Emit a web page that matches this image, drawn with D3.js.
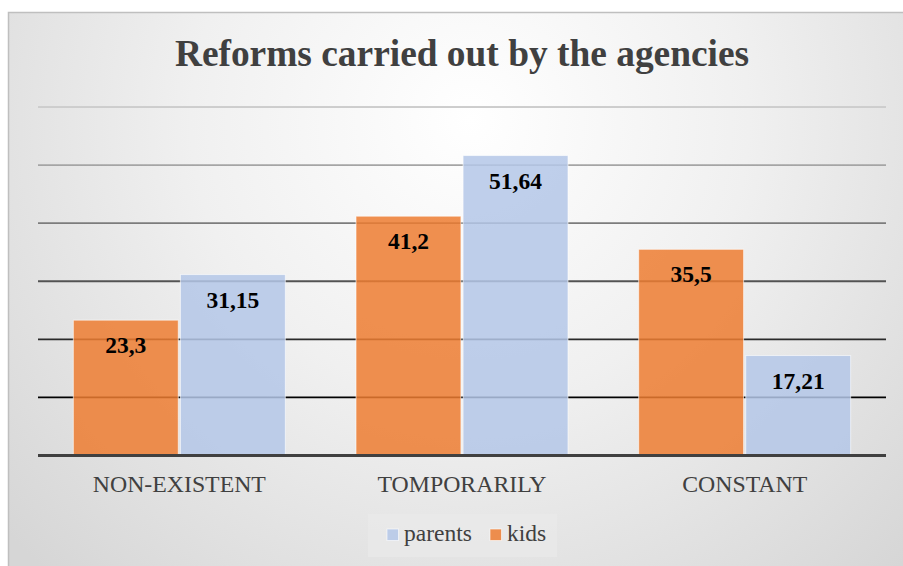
<!DOCTYPE html>
<html><head><meta charset="utf-8">
<script src="https://cdn.jsdelivr.net/npm/d3@7"></script>
<style>html,body{margin:0;padding:0;background:#fff;}svg{display:block;}</style>
</head><body>
<script>
const categories = ["NON-EXISTENT", "TOMPORARILY", "CONSTANT"];
const seriesNames = ["kids", "parents"];
const kids = [23.3, 41.2, 35.5];
const parents = [31.15, 51.64, 17.21];
const kidsLabels = ["23,3", "41,2", "35,5"];
const parentsLabels = ["31,15", "51,64", "17,21"];
const yTicks = [0, 10, 20, 30, 40, 50, 60];
const title = "Reforms carried out by the agencies";

(function () {
const W = 903, H = 566;
const FONT = '"Liberation Serif", Tinos';
const colors = {kids: "#ED7D31", parents: "#B4C7E7"};
const svg = d3.select("body").append("svg").attr("width", W).attr("height", H);
const defs = svg.append("defs");
const rg = defs.append("radialGradient").attr("id", "bg")
  .attr("gradientUnits", "userSpaceOnUse").attr("cx", 470).attr("cy", 120).attr("r", 620);
rg.append("stop").attr("offset", "0").attr("stop-color", "#ffffff");
rg.append("stop").attr("offset", "0.45").attr("stop-color", "#f0f0f0");
rg.append("stop").attr("offset", "1").attr("stop-color", "#d6d6d6");
const lg = defs.append("linearGradient").attr("id", "grid")
  .attr("gradientUnits", "userSpaceOnUse").attr("x1", 0).attr("y1", 105).attr("x2", 0).attr("y2", 400);
lg.append("stop").attr("offset", "0").attr("stop-color", "#cfcfcf");
lg.append("stop").attr("offset", "1").attr("stop-color", "#000000");

svg.append("rect").attr("x", 8.5).attr("y", 12.5).attr("width", W + 10).attr("height", H + 10)
  .attr("fill", "url(#bg)").attr("stroke", "#bfbfbf").attr("stroke-width", 1.5);

const pLeft = 38, pRight = 886, pTop = 107, pBottom = 455.5;
const x0 = d3.scaleBand().domain(categories).range([pLeft, pRight]).paddingInner(0.25).paddingOuter(0.125);
const x1 = d3.scaleBand().domain(seriesNames).range([0, x0.bandwidth()]).paddingInner(0.02);
const y = d3.scaleLinear().domain([0, 60]).range([pBottom, pTop]);

svg.append("g").selectAll("line").data(yTicks.filter(d => d > 0)).join("line")
  .attr("x1", pLeft).attr("x2", pRight)
  .attr("y1", d => y(d)).attr("y2", d => y(d))
  .attr("stroke", "url(#grid)").attr("stroke-width", 1.8);

const data = categories.map((c, i) => ({cat: c, vals: [
  {s: "kids", v: kids[i], l: kidsLabels[i]},
  {s: "parents", v: parents[i], l: parentsLabels[i]}]}));

const g = svg.append("g").selectAll("g").data(data).join("g")
  .attr("transform", d => `translate(${x0(d.cat)},0)`);
g.selectAll("rect").data(d => d.vals).join("rect")
  .attr("x", d => x1(d.s)).attr("width", x1.bandwidth())
  .attr("y", d => y(d.v)).attr("height", d => y(0) - y(d.v))
  .attr("fill", d => colors[d.s]).attr("fill-opacity", 0.85)
  .attr("stroke", "#ffffff").attr("stroke-opacity", 0.6).attr("stroke-width", 1);
g.selectAll("text").data(d => d.vals).join("text")
  .attr("x", d => x1(d.s) + x1.bandwidth() / 2).attr("y", d => y(d.v) + 33)
  .attr("text-anchor", "middle")
  .style("font-family", FONT).style("font-weight", "bold").style("font-size", "23.5px")
  .attr("fill", "#000")
  .text(d => d.l);

svg.append("line").attr("x1", pLeft).attr("x2", pRight).attr("y1", y(0)).attr("y2", y(0))
  .attr("stroke", "#404040").attr("stroke-width", 3.2);

const xAxis = d3.axisBottom(x0).tickSize(0).tickPadding(0);
const ax = svg.append("g").attr("transform", `translate(0,${y(0) + 36.5})`).call(xAxis);
ax.select(".domain").remove();
ax.selectAll("text").style("font-family", FONT).style("font-size", "23.8px")
  .attr("fill", "#404040").attr("dy", 0);

svg.append("text").attr("x", 462).attr("y", 66).attr("text-anchor", "middle")
  .style("font-family", FONT).style("font-weight", "bold").style("font-size", "37.4px")
  .attr("fill", "#404040").text(title);

const leg = svg.append("g");
leg.append("rect").attr("x", 368).attr("y", 514).attr("width", 189).attr("height", 43)
  .attr("fill", "#e9e9e9").attr("fill-opacity", 0.7);
const legItems = [{s: "parents", x: 387}, {s: "kids", x: 490}];
legItems.forEach(it => {
  leg.append("rect").attr("x", it.x).attr("y", 529).attr("width", 11.5).attr("height", 11.5)
    .attr("fill", colors[it.s]).attr("fill-opacity", 0.85).attr("stroke", "#fff").attr("stroke-opacity", 0.6);
  leg.append("text").attr("x", it.x + 17).attr("y", 541)
    .style("font-family", FONT).style("font-size", "23.5px")
    .attr("fill", "#404040").text(it.s);
});
})();
</script>
</body></html>
